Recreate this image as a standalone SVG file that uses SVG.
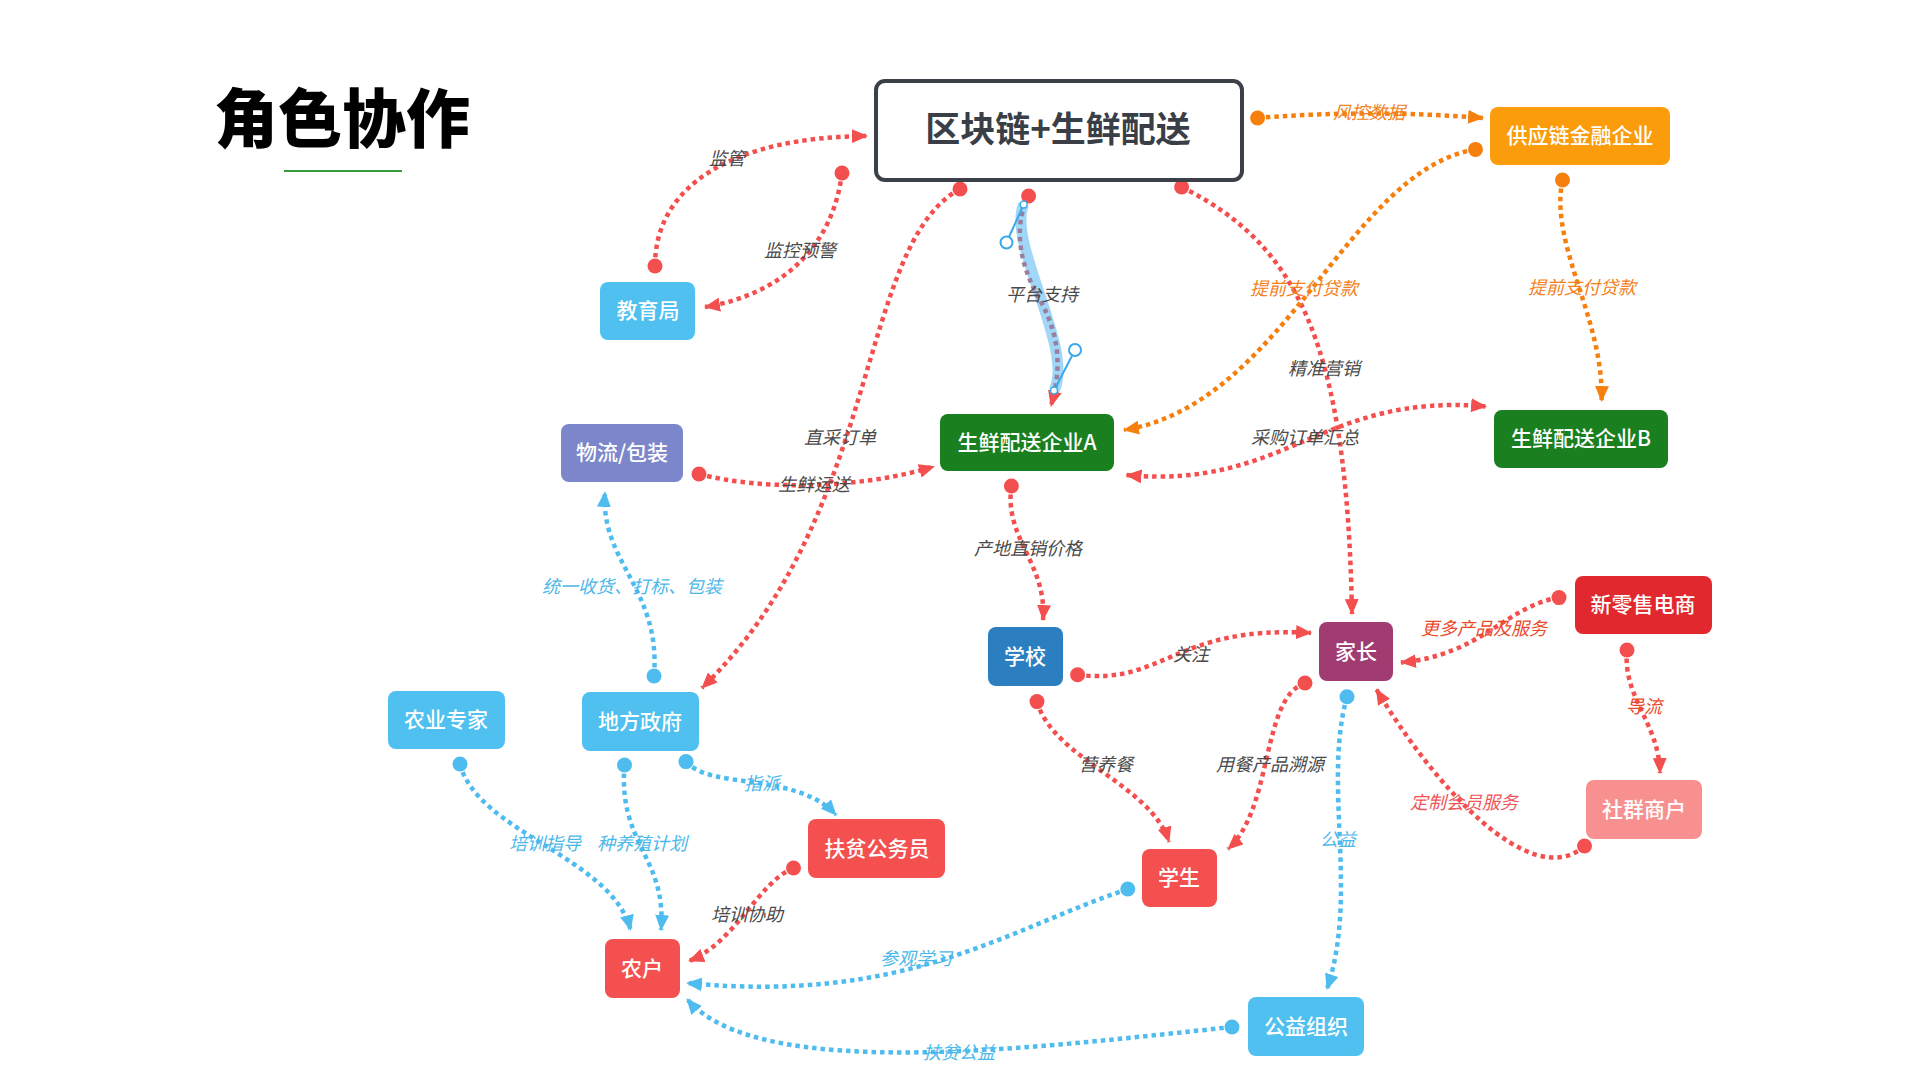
<svg xmlns="http://www.w3.org/2000/svg" width="1920" height="1080" viewBox="0 0 1920 1080">
<defs>
<style>
.node text{font-family:"Noto Sans CJK SC","Noto Sans",sans-serif;font-size:21px;font-weight:500;fill:#fff;text-anchor:middle}
.lbl{font-family:"Noto Sans CJK SC","Noto Sans",sans-serif;font-size:18px;font-style:italic;text-anchor:middle}
.dk{fill:#4a4a4a}.or{fill:#f3821e}.bl{fill:#4cb8ea}.rd{fill:#ea4a2a}.pk{fill:#f0555a}
.r{fill:none;stroke:#f44f4f;stroke-width:4.5;stroke-dasharray:4.5 4;marker-start:url(#dR);marker-end:url(#aR)}
.o{fill:none;stroke:#f6800e;stroke-width:4.5;stroke-dasharray:4.5 4;marker-start:url(#dO);marker-end:url(#aO)}
.b{fill:none;stroke:#4fbcef;stroke-width:4.5;stroke-dasharray:4.5 4;marker-start:url(#dB);marker-end:url(#aB)}
</style>
<marker id="dR" viewBox="-8 -8 16 16" markerWidth="16" markerHeight="16" markerUnits="userSpaceOnUse"><circle r="7.5" fill="#f44f4f"/></marker>
<marker id="dO" viewBox="-8 -8 16 16" markerWidth="16" markerHeight="16" markerUnits="userSpaceOnUse"><circle r="7.5" fill="#f6800e"/></marker>
<marker id="dB" viewBox="-8 -8 16 16" markerWidth="16" markerHeight="16" markerUnits="userSpaceOnUse"><circle r="7.5" fill="#4fbcef"/></marker>
<marker id="aR" viewBox="0 0 16 14" refX="15" refY="7" markerWidth="16" markerHeight="14" orient="auto" markerUnits="userSpaceOnUse"><path d="M0,0 L16,7 L0,14 Z" fill="#f44f4f"/></marker>
<marker id="aO" viewBox="0 0 16 14" refX="15" refY="7" markerWidth="16" markerHeight="14" orient="auto" markerUnits="userSpaceOnUse"><path d="M0,0 L16,7 L0,14 Z" fill="#f6800e"/></marker>
<marker id="aB" viewBox="0 0 16 14" refX="15" refY="7" markerWidth="16" markerHeight="14" orient="auto" markerUnits="userSpaceOnUse"><path d="M0,0 L16,7 L0,14 Z" fill="#4fbcef"/></marker>
<marker id="aRs" viewBox="0 0 16 14" refX="1" refY="7" markerWidth="16" markerHeight="14" orient="auto" markerUnits="userSpaceOnUse"><path d="M16,0 L0,7 L16,14 Z" fill="#f44f4f"/></marker>
</defs>
<rect width="1920" height="1080" fill="#fff"/>

<g id="title">
<text x="214" y="142" font-family="'Noto Sans CJK SC',sans-serif" font-size="64" font-weight="900" fill="#000">角色协作</text>
<line x1="284" y1="171" x2="402" y2="171" stroke="#3a9a3a" stroke-width="2"/>
</g>

<g id="connectors">
<path class="r" d="M655,266 C655,184 735,137 867,136"/>
<path class="r" d="M842,173 C833,245 784,294 705,307"/>
<path class="r" d="M960,189 C857,245 882,514 702,688"/>
<g id="platform">
<path d="M1023.7,204.5 C1006.5,242.5 1075,350 1054,390.6" fill="none" stroke="#8fd0f5" stroke-width="11" opacity="0.85"/>
<path d="M1028.6,196 C1023.7,204.5 1006.5,242.5 1040,300 C1065,345 1058,380 1051,406" fill="none" stroke="#9a7ea0" stroke-width="4.5" stroke-dasharray="4.5 4" marker-start="url(#dR)" marker-end="url(#aR)"/>
<line x1="1023.7" y1="204.5" x2="1006.5" y2="242.5" stroke="#3aa8e8" stroke-width="2"/>
<line x1="1054" y1="390.6" x2="1075" y2="350" stroke="#3aa8e8" stroke-width="2"/>
<circle cx="1006.5" cy="242.5" r="6" fill="#fff" stroke="#3aa8e8" stroke-width="2"/>
<circle cx="1075" cy="350" r="6" fill="#fff" stroke="#3aa8e8" stroke-width="2"/>
<circle cx="1023.7" cy="204.5" r="3.5" fill="#fff" stroke="#3aa8e8" stroke-width="1.5"/>
<circle cx="1054" cy="390.6" r="3.5" fill="#fff" stroke="#3aa8e8" stroke-width="1.5"/>
</g>
<path class="r" d="M1181.6,187 C1298,245 1347,343 1352,614"/>
<path class="o" d="M1257.6,118 C1330,112 1410,112 1483,118"/>
<path class="o" d="M1475.5,149.4 C1347,171 1286,404 1124,430"/>
<path class="o" d="M1562.5,180 C1549,245 1604,318 1601.6,401"/>
<path class="r" style="marker-start:url(#aRs)" d="M1126.5,475 C1286,490 1322,392 1486,406.5"/>
<path class="r" d="M699,474 C759,490 857,490 934,466.5"/>
<path class="r" d="M1011.4,486 C1004,539 1047,563 1043,620"/>
<path class="b" d="M654,676 C661,588 600,563 605,492"/>
<path class="r" d="M1077.6,674.7 C1163,686 1175.5,624.5 1311,633"/>
<path class="r" d="M1559,597.6 C1506,606 1482,655 1401,662.5"/>
<path class="r" d="M1627,650 C1622.5,698 1659,722.5 1660,773"/>
<path class="r" d="M1584.5,846 C1530.6,894 1432.6,783.7 1376.4,689.4"/>
<path class="r" d="M1037,701.6 C1053,759 1151,784 1169,842"/>
<path class="r" d="M1305,683 C1261,698 1273.5,808 1228,849"/>
<path class="b" d="M1347,696.7 C1322.5,783.7 1359,894 1327,989"/>
<path class="b" d="M1127.8,889 C1004,930.6 906,1004 687,983"/>
<path class="b" d="M1232,1027 C1041,1047 759,1084 687,999"/>
<path class="b" d="M686,761.6 C710,790 796,771.4 836,815"/>
<path class="b" d="M460,764 C477.6,832.7 612,857 630.6,930"/>
<path class="b" d="M624.5,765 C618,845 667,857 661,930"/>
<path class="r" d="M793.5,868 C759,881.6 735,943 689,961"/>
</g>

<g id="labels">
<text class="lbl dk" x="727" y="165">监管</text>
<text class="lbl dk" x="800" y="257">监控预警</text>
<text class="lbl dk" x="840" y="444">直采订单</text>
<text class="lbl dk" x="1042" y="301">平台支持</text>
<text class="lbl dk" x="1324" y="375">精准营销</text>
<text class="lbl or" x="1369" y="119">风控数据</text>
<text class="lbl or" x="1304" y="295">提前支付贷款</text>
<text class="lbl or" x="1582" y="294">提前支付贷款</text>
<text class="lbl dk" x="1305" y="444">采购订单汇总</text>
<text class="lbl dk" x="814" y="491">生鲜运送</text>
<text class="lbl dk" x="1028" y="555">产地直销价格</text>
<text class="lbl bl" x="632" y="593">统一收货、打标、包装</text>
<text class="lbl dk" x="1191" y="661">关注</text>
<text class="lbl rd" x="1484" y="635">更多产品及服务</text>
<text class="lbl rd" x="1644" y="713">导流</text>
<text class="lbl pk" x="1464" y="809">定制会员服务</text>
<text class="lbl dk" x="1106" y="771">营养餐</text>
<text class="lbl dk" x="1270" y="771">用餐产品溯源</text>
<text class="lbl bl" x="1338" y="846">公益</text>
<text class="lbl bl" x="916" y="965">参观学习</text>
<text class="lbl bl" x="959" y="1059">扶贫公益</text>
<text class="lbl bl" x="762" y="790">指派</text>
<text class="lbl bl" x="545" y="850">培训指导</text>
<text class="lbl bl" x="642" y="850">种养殖计划</text>
<text class="lbl dk" x="747" y="921">培训协助</text>
</g>

<g id="n-main"><rect x="876" y="81" width="366" height="99" rx="9" fill="#fff" stroke="#3c4049" stroke-width="4"/>
<text x="1058" y="142" font-family="'Noto Sans CJK SC',sans-serif" font-size="35" font-weight="bold" fill="#3a3f47" text-anchor="middle">区块链+生鲜配送</text></g>
<g id="n-finance" class="node"><rect x="1490" y="107" width="180" height="58" rx="8" fill="#fa9c0c"/><text x="1580" y="143">供应链金融企业</text></g>
<g id="n-edu" class="node"><rect x="600" y="282" width="95" height="58" rx="8" fill="#4fc0f0"/><text x="648" y="318">教育局</text></g>
<g id="n-logistics" class="node"><rect x="561" y="424" width="122" height="58" rx="8" fill="#7b86cb"/><text x="622" y="460">物流/包装</text></g>
<g id="n-entA" class="node"><rect x="940" y="414" width="174" height="57" rx="8" fill="#1a7f1f"/><text x="1027" y="450">生鲜配送企业A</text></g>
<g id="n-entB" class="node"><rect x="1494" y="410" width="174" height="58" rx="8" fill="#1a7f1f"/><text x="1581" y="446">生鲜配送企业B</text></g>
<g id="n-school" class="node"><rect x="988" y="627" width="75" height="59" rx="8" fill="#2b7fc1"/><text x="1025" y="664">学校</text></g>
<g id="n-parent" class="node"><rect x="1319" y="622" width="74" height="59" rx="8" fill="#a03c72"/><text x="1356" y="659">家长</text></g>
<g id="n-retail" class="node"><rect x="1575" y="576" width="137" height="58" rx="8" fill="#e0282e"/><text x="1643" y="612">新零售电商</text></g>
<g id="n-community" class="node"><rect x="1586" y="780" width="116" height="59" rx="8" fill="#f89090"/><text x="1644" y="817">社群商户</text></g>
<g id="n-expert" class="node"><rect x="388" y="691" width="117" height="58" rx="8" fill="#4fc0f0"/><text x="446" y="727">农业专家</text></g>
<g id="n-gov" class="node"><rect x="582" y="692" width="117" height="59" rx="8" fill="#4fc0f0"/><text x="640" y="729">地方政府</text></g>
<g id="n-official" class="node"><rect x="808" y="819" width="137" height="59" rx="8" fill="#f45050"/><text x="877" y="856">扶贫公务员</text></g>
<g id="n-student" class="node"><rect x="1142" y="849" width="75" height="58" rx="8" fill="#f45050"/><text x="1179" y="885">学生</text></g>
<g id="n-farmer" class="node"><rect x="605" y="939" width="75" height="59" rx="8" fill="#f45050"/><text x="642" y="976">农户</text></g>
<g id="n-charity" class="node"><rect x="1248" y="997" width="116" height="59" rx="8" fill="#4fc0f0"/><text x="1306" y="1034">公益组织</text></g>
</svg>
